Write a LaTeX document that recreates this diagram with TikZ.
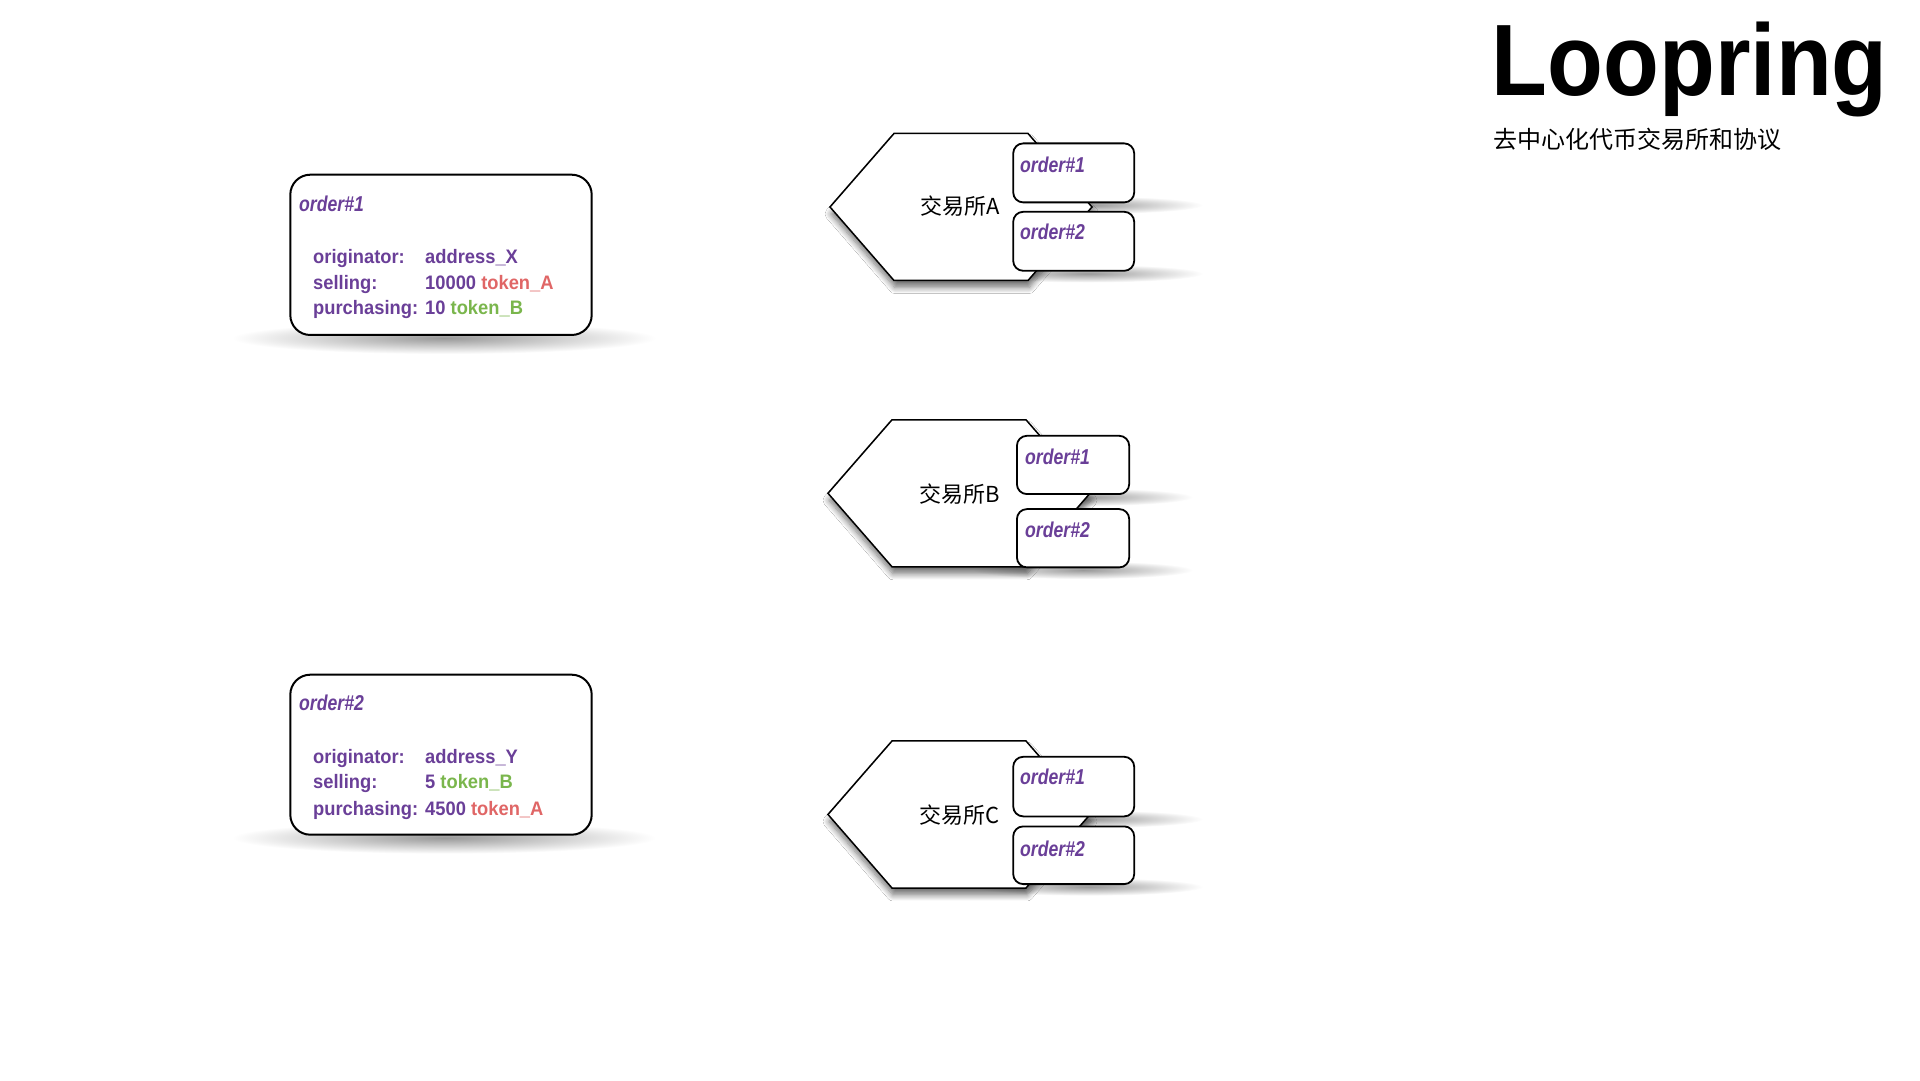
\documentclass[tikz,border=0pt]{standalone}
\usepackage{fontspec}
\setmainfont{Liberation Sans}
\newfontfamily\cjk{Noto Sans CJK SC}
\newfontfamily\fieldsans[FakeStretch=0.94]{Liberation Sans}
\newfontfamily\ordsans[FakeStretch=0.82]{Liberation Sans}
\newfontfamily\titlesans[FakeStretch=0.9]{Liberation Sans}
\usetikzlibrary{shadows.blur}
\definecolor{ordpurple}{RGB}{106,63,152}
\definecolor{tokred}{RGB}{224,102,102}
\definecolor{tokgreen}{RGB}{122,182,76}
\tikzset{
  bigbox/.style={draw=black, line width=2pt, fill=white, rounded corners=20pt, anchor=south west, inner sep=0pt},
  smallbox/.style={draw=black, line width=1.8pt, fill=white, rounded corners=10pt, anchor=south west, inner sep=0pt,
    minimum width=121pt, minimum height=59pt},
  hexshape/.style={draw=black, line width=1.5pt, fill=white,
    blur shadow={shadow xshift=1pt, shadow yshift=-7pt, shadow blur radius=6pt, shadow blur steps=8, shadow opacity=55}},
  ordtitle/.style={anchor=base west, inner sep=0pt, text=ordpurple, font=\ordsans\fontsize{21.5}{24}\selectfont\bfseries\itshape},
  ordfield/.style={anchor=base west, inner sep=0pt, text=ordpurple, font=\fieldsans\fontsize{19.5}{22}\selectfont\bfseries},
  hexlabel/.style={inner sep=0pt, font=\cjk\fontsize{22}{24}\selectfont},
  softshadow/.style={inner color=black!40, outer color=white},
  exchange/.pic={\draw[hexshape] (-131,0) -- (-67,73.5) -- (67,73.5) -- (131,0) -- (67,-73.5) -- (-67,-73.5) -- cycle;}
}
\begin{document}
\begin{tikzpicture}[x=1pt,y=1pt]
\useasboundingbox (0,0) rectangle (1920,1080);
\fill[white] (0,0) rectangle (1920,1080);

% title
\node[anchor=base west, inner sep=0pt, font=\titlesans\fontsize{101.5}{110}\selectfont\bfseries] (title) at (1491.7,984) {Loopring};
\node[anchor=base west, inner sep=0pt, font=\cjk\fontsize{24}{26}\selectfont] (subtitle) at (1493,931) {去中心化代币交易所和协议};

% order box 1
\shade[softshadow] (444,742) ellipse [x radius=212pt, y radius=16pt];
\node[bigbox, minimum width=301.4pt, minimum height=160.3pt] (o1) at (289.3,744) {};
\node[ordtitle] (o1t) at (299,868.3) {order\#1};
\node[ordfield] (o1a) at (313,816) {originator:};
\node[ordfield] (o1b) at (313,790) {selling:};
\node[ordfield] (o1c) at (313,765) {purchasing:};
\node[ordfield] (o1av) at (425,816) {address\_X};
\node[ordfield] (o1bv) at (425,790) {10000 \textcolor{tokred}{token\_A}};
\node[ordfield] (o1cv) at (425,765) {10 \textcolor{tokgreen}{token\_B}};

% order box 2
\shade[softshadow] (444,242.3) ellipse [x radius=212pt, y radius=16pt];
\node[bigbox, minimum width=301.4pt, minimum height=160pt] (o2) at (289.3,244.3) {};
\node[ordtitle] (o2t) at (299,369.3) {order\#2};
\node[ordfield] (o2a) at (313,316.7) {originator:};
\node[ordfield] (o2b) at (313,291) {selling:};
\node[ordfield] (o2c) at (313,265) {purchasing:};
\node[ordfield] (o2av) at (425,316.7) {address\_Y};
\node[ordfield] (o2bv) at (425,291) {5 \textcolor{tokgreen}{token\_B}};
\node[ordfield] (o2cv) at (425,265) {4500 \textcolor{tokred}{token\_A}};

% exchange A
\shade[softshadow] (1088,875) ellipse [x radius=115pt, y radius=9pt];
\shade[softshadow] (1088,806.5) ellipse [x radius=115pt, y radius=9pt];
\pic at (961,873) {exchange};
\node[hexlabel] (exA) at (960,874) {交易所A};
\node[smallbox] (a1) at (1012.3,876.7) {};
\node[ordtitle] (a1t) at (1020,907.7) {order\#1};
\node[smallbox] (a2) at (1012.3,808.3) {};
\node[ordtitle] (a2t) at (1020,840) {order\#2};

% exchange B
\shade[softshadow] (1083,583) ellipse [x radius=110pt, y radius=9pt];
\shade[softshadow] (1083,510) ellipse [x radius=110pt, y radius=9pt];
\pic at (959,586.7) {exchange};
\node[hexlabel] (exB) at (960,586.4) {交易所B};
\node[smallbox, minimum width=112.3pt, minimum height=58.3pt] (b1) at (1016,585) {};
\node[ordtitle] (b1t) at (1025,615.7) {order\#1};
\node[smallbox, minimum width=112.3pt, minimum height=58.3pt] (b2) at (1016,511.7) {};
\node[ordtitle] (b2t) at (1025,542) {order\#2};

% exchange C
\shade[softshadow] (1088,261) ellipse [x radius=115pt, y radius=9pt];
\shade[softshadow] (1088,193.3) ellipse [x radius=115pt, y radius=9pt];
\pic at (959,265.5) {exchange};
\node[hexlabel] (exC) at (960,264.5) {交易所C};
\node[smallbox, minimum height=59.6pt] (c1) at (1012.3,262.7) {};
\node[ordtitle] (c1t) at (1020,295) {order\#1};
\node[smallbox, minimum height=57.7pt] (c2) at (1012.3,195) {};
\node[ordtitle] (c2t) at (1020,224) {order\#2};
\end{tikzpicture}
\end{document}
